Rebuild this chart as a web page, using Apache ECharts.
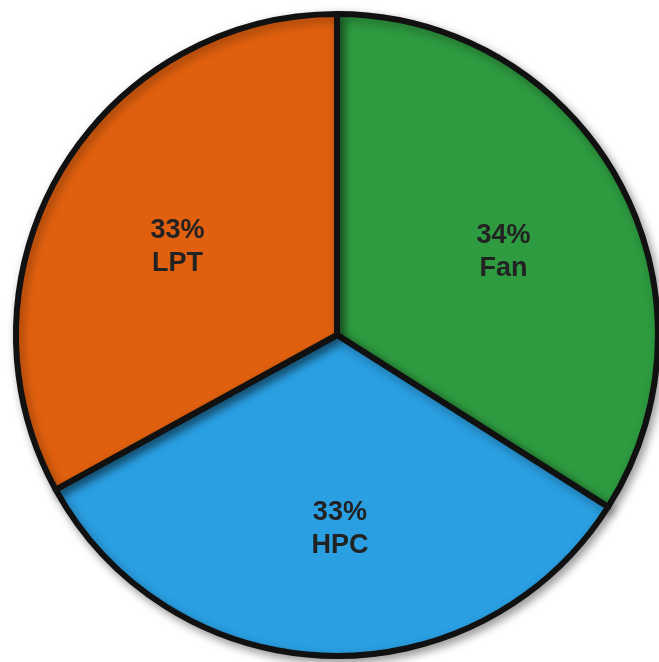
<!DOCTYPE html>
<html>
<head>
<meta charset="utf-8">
<script src="https://cdn.jsdelivr.net/npm/echarts@6/dist/echarts.min.js"></script>
<style>html,body{margin:0;padding:0;background:#fff;}#c{width:659px;height:662px;}</style>
</head>
<body>
<div id="c"></div>
<script>
const categories = ['Fan', 'HPC', 'LPT'];
const values = [34, 33, 33];
const colors = ['#2E9B40', '#2A9FE2', '#E0600F'];

const labelNudge = { Fan: [-4, 11], HPC: [9, 0], LPT: [8, 11] };

const data = categories.map((n, i) => ({ name: n, value: values[i], itemStyle: { color: colors[i] } }));
const labelData = categories.map((n, i) => ({ name: n, value: values[i], label: { offset: labelNudge[n] } }));

const chart = echarts.init(document.getElementById('c'));
chart.setOption({
  backgroundColor: '#ffffff',
  animation: false,
  series: [
    {
      type: 'pie',
      center: [337, 335],
      radius: [0, 321],
      startAngle: 90,
      clockwise: true,
      silent: true,
      label: { show: false },
      labelLine: { show: false },
      itemStyle: {
        borderColor: '#111111',
        borderWidth: 6,
        shadowColor: 'rgba(0,0,0,0.35)',
        shadowBlur: 10,
        shadowOffsetX: 3,
        shadowOffsetY: 4
      },
      data: data
    },
    {
      type: 'pie',
      center: [337, 335],
      radius: [62, 321],
      startAngle: 90,
      clockwise: true,
      silent: true,
      itemStyle: { color: 'rgba(0,0,0,0)', borderWidth: 0 },
      labelLine: { show: false },
      label: {
        show: true,
        position: 'inside',
        formatter: p => p.value + '%\n' + p.name,
        fontFamily: 'Liberation Sans, Arial, sans-serif',
        fontWeight: 'bold',
        fontSize: 27,
        lineHeight: 33,
        color: '#222222'
      },
      data: labelData
    }
  ]
});
</script>
</body>
</html>
